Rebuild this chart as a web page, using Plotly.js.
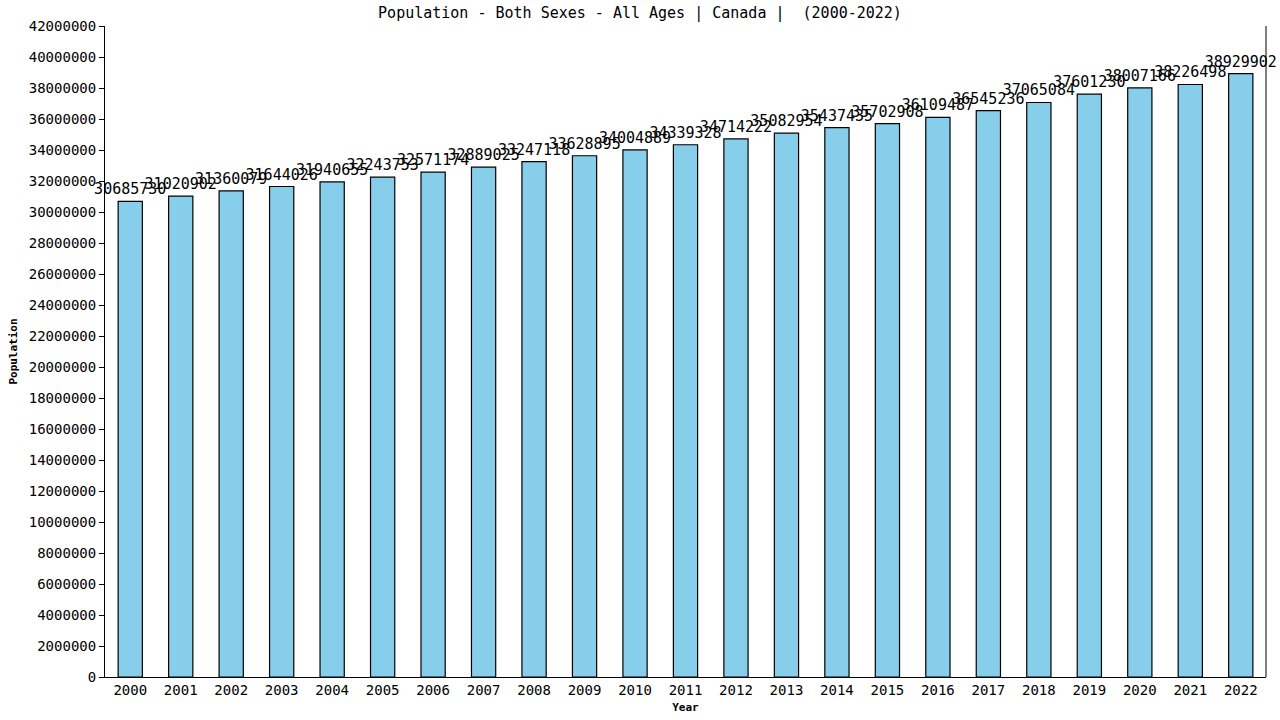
<!DOCTYPE html>
<html>
<head>
<meta charset="utf-8">
<script src="https://cdn.plot.ly/plotly-3.0.1.min.js"></script>
<style>
  body { margin: 0; background: #fff; }
  #chart { width: 1280px; height: 720px; }
</style>
</head>
<body>
<div id="chart"></div>
<script>
const years = ["2000", "2001", "2002", "2003", "2004", "2005", "2006", "2007", "2008", "2009", "2010", "2011",
               "2012", "2013", "2014", "2015", "2016", "2017", "2018", "2019", "2020", "2021", "2022"];
const population = [30685730, 31020902, 31360079, 31644026, 31940655, 32243753, 32571174, 32889025,
                    33247118, 33628895, 34004889, 34339328, 34714222, 35082954, 35437435, 35702908,
                    36109487, 36545236, 37065084, 37601230, 38007166, 38226498, 38929902];

const mono = "DejaVu Sans Mono, monospace";

const trace = {
    x: years,
    y: population,
    type: 'bar',
    width: 0.48,
    text: population.map(v => String(v)),
    textposition: 'outside',
    constraintext: 'none',
    cliponaxis: false,
    textfont: { family: mono, size: 15, color: '#000' },
    marker: {
        color: '#87ceeb',
        line: { color: '#000', width: 1.2 }
    },
    hoverinfo: 'x+y'
};

const layout = {
    width: 1280,
    height: 720,
    margin: { l: 105, r: 14, t: 26, b: 43 },
    paper_bgcolor: '#fff',
    plot_bgcolor: '#fff',
    showlegend: false,
    font: { family: mono, size: 14, color: '#000' },
    title: {
        text: 'Population - Both Sexes - All Ages | Canada |\u00a0\u00a0(2000-2022)',
        font: { family: mono, size: 15, color: '#000' },
        x: 0.5, xanchor: 'center', y: 0.982, yanchor: 'middle'
    },
    xaxis: {
        type: 'category',
        range: [-0.5, 22.5],
        showline: true, linecolor: '#000', linewidth: 1,
        mirror: false,
        ticks: '', showgrid: false, zeroline: false,
        tickfont: { family: mono, size: 14, color: '#000' },
        title: { text: 'Year', font: { family: mono, size: 11, color: '#000', weight: 'bold' }, standoff: 6 }
    },
    yaxis: {
        range: [0, 42000000],
        dtick: 2000000,
        tickformat: 'd',
        showline: true, linecolor: '#000', linewidth: 1,
        ticks: 'outside', ticklen: 5, tickcolor: '#000',
        showgrid: false, zeroline: false,
        tickfont: { family: mono, size: 14, color: '#000' },
        title: { text: 'Population', font: { family: mono, size: 11, color: '#000', weight: 'bold' }, standoff: 8 }
    },
    shapes: [{
        type: 'line', xref: 'paper', yref: 'paper',
        x0: 1, x1: 1, y0: 0, y1: 1,
        line: { color: '#000', width: 1 }
    }]
};

Plotly.newPlot('chart', [trace], layout, { displayModeBar: false, staticPlot: true });
</script>
</body>
</html>
